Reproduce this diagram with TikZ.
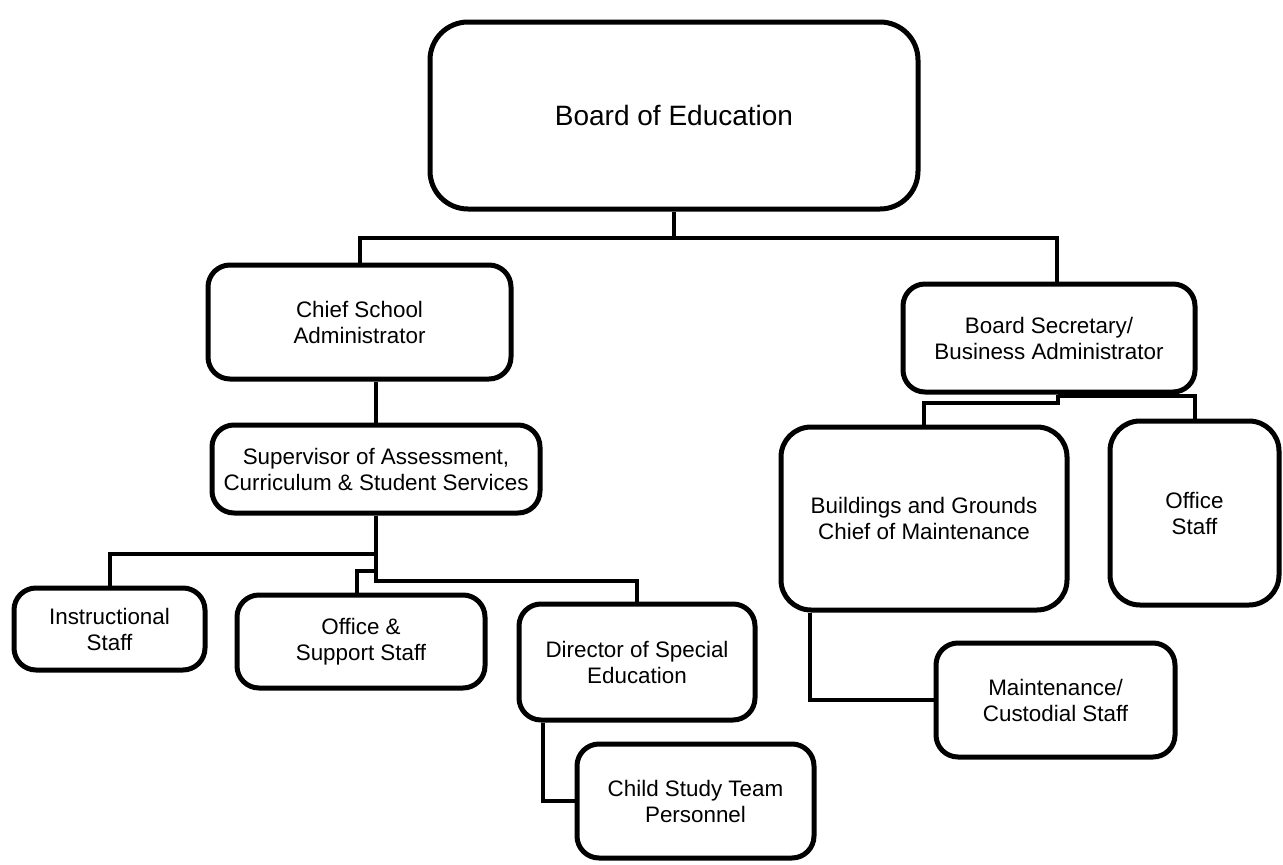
\documentclass[tikz,border=0pt]{standalone}
\usepackage{fontspec}
\setmainfont{Liberation Sans}

\begin{document}
\begin{tikzpicture}[x=1pt, y=-1pt,
    post/.style={draw, line width=5pt, rounded corners=22pt, align=center,
        inner sep=0pt, font=\fontsize{22.4}{26}\selectfont},
    link/.style={line width=4pt}]

\useasboundingbox (0,0) rectangle (1283,865);

% offices
\node[post, rounded corners=38pt, minimum width=488pt, minimum height=187pt,
      font=\fontsize{28}{32}\selectfont] (board) at (674,115.5) {Board of Education};

\node[post, minimum width=303pt, minimum height=114pt] (chief) at (359.5,322)
      {Chief School\\Administrator};
\node[post, minimum width=328pt, minimum height=88pt] (super) at (376,469)
      {Supervisor of Assessment,\\Curriculum \& Student Services};

\node[post, minimum width=191pt, minimum height=82pt] (instr) at (109.5,629)
      {Instructional\\Staff};
\node[post, minimum width=248pt, minimum height=93pt] (office) at (361,641.5)
      {Office \&\\Support Staff};
\node[post, minimum width=236pt, minimum height=116pt] (director) at (637,662)
      {Director of Special\\Education};
\node[post, minimum width=237pt, minimum height=114pt] (child) at (695.5,801)
      {Child Study Team\\Personnel};

\node[post, minimum width=292pt, minimum height=108pt] (secretary) at (1049,338)
      {Board Secretary/\\Business Administrator};
\node[post, rounded corners=30pt, minimum width=286pt, minimum height=183pt] (bldg) at (924,518.5)
      {Buildings and Grounds\\Chief of Maintenance};
\node[post, rounded corners=30pt, minimum width=169pt, minimum height=184pt] (ostaff) at (1194.5,513)
      {Office\\Staff};
\node[post, minimum width=239pt, minimum height=114pt] (maint) at (1055.5,700)
      {Maintenance/\\Custodial Staff};

% lines
\coordinate (bj) at (674,238);
\draw[link] (board.south) -- (bj) -| (chief.north);
\draw[link] (bj) -| ([xshift=8pt]secretary.north);

\draw[link] (super.north) -- (super.north |- chief.south);

\draw[link] (super.south) -- ++(0,65) -| (director.north);
\draw[link] (super.south) ++(0,38) -| (instr.north);
\draw[link] (super.south) ++(0,55) -| ([xshift=-4pt]office.north);
\draw[link] ([xshift=26pt]director.south west) |- (child.west);

\draw[link] ([xshift=9pt]secretary.south) -- ++(0,8) -| (bldg.north);
\draw[link] ([xshift=9pt]secretary.south) ++(0,1) -| (ostaff.north);
\draw[link] ([xshift=31pt]bldg.south west) |- (maint.west);

\end{tikzpicture}
\end{document}
